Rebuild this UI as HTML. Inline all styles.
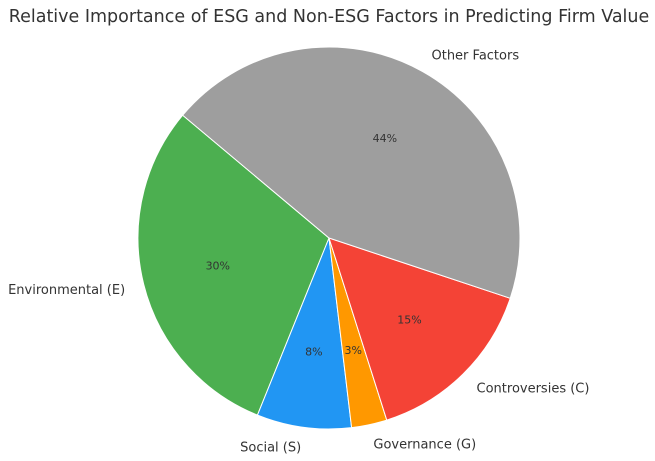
<!DOCTYPE html>
<html><head><meta charset="utf-8"><style>
html,body{margin:0;padding:0;background:#fff;}
svg{display:block;font-family:"DejaVu Sans","Liberation Sans",sans-serif;}
</style></head><body>
<svg id="chart" width="655" height="461" viewBox="0 0 655 461">
<text x="329" y="22" text-anchor="middle" font-size="17.5" fill="#333">Relative Importance of ESG and Non-ESG Factors in Predicting Firm Value</text>
<g id="slices"></g>
</svg>
<script>
const categories = ["Environmental (E)", "Social (S)", "Governance (G)", "Controversies (C)", "Other Factors"];
const values = [30, 8, 3, 15, 44];
const pctLabels = ["30%", "8%", "3%", "15%", "44%"];
const colors = ["#4CAF50", "#2196F3", "#FF9800", "#F44336", "#9E9E9E"];

const cx = 329, cy = 238, r = 191, startAngle = 140;
const g = document.getElementById('slices');
const NS = "http://www.w3.org/2000/svg";
const total = values.reduce((a, b) => a + b, 0);
function pt(deg, rad) {
  const a = deg * Math.PI / 180;
  return [cx + rad * Math.cos(a), cy - rad * Math.sin(a)];
}
let ang = startAngle;
values.forEach((v, i) => {
  const sweep = v / total * 360;
  const a0 = ang, a1 = ang + sweep;
  const p0 = pt(a0, r), p1 = pt(a1, r);
  const large = sweep > 180 ? 1 : 0;
  const path = document.createElementNS(NS, 'path');
  path.setAttribute('d', `M${cx},${cy} L${p0[0]},${p0[1]} A${r},${r} 0 ${large} 0 ${p1[0]},${p1[1]} Z`);
  path.setAttribute('fill', colors[i]);
  path.setAttribute('stroke', '#fff');
  path.setAttribute('stroke-width', '1');
  
  
  g.appendChild(path);
  const mid = (a0 + a1) / 2;
  const pp = pt(mid, r * 0.6);
  const t = document.createElementNS(NS, 'text');
  t.setAttribute('x', pp[0]); t.setAttribute('y', pp[1] + 4);
  t.setAttribute('text-anchor', 'middle');
  t.setAttribute('font-size', '11');
  t.setAttribute('fill', '#333');
  t.textContent = pctLabels[i];
  
  
  g.appendChild(t);
  const lp = pt(mid, r * 1.1);
  const l = document.createElementNS(NS, 'text');
  l.setAttribute('x', lp[0]); l.setAttribute('y', lp[1] + 5);
  l.setAttribute('text-anchor', Math.cos(mid * Math.PI / 180) >= 0 ? 'start' : 'end');
  l.setAttribute('font-size', '13');
  l.setAttribute('fill', '#333');
  l.textContent = categories[i];
  
  
  g.appendChild(l);
  ang = a1;
});
</script>
</body></html>
